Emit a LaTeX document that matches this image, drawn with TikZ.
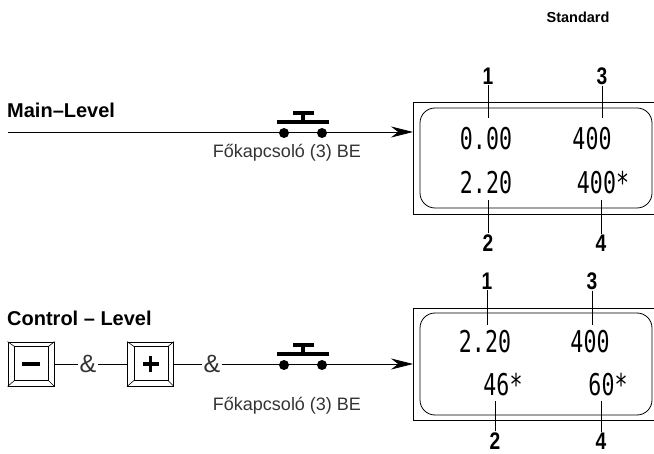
\documentclass[tikz,border=0pt]{standalone}
\usepackage{fontspec}
\setmainfont{Liberation Sans}
\newfontfamily\narrowfont{Liberation Sans}[FakeStretch=0.8]
\newfontfamily\lcdfont{DejaVu Sans Mono}[FakeStretch=0.72]
\usetikzlibrary{arrows.meta, positioning, calc}

\begin{document}
\begin{tikzpicture}[x=1pt, y=1pt,
    head/.style={font=\fontsize{20}{22}\selectfont\bfseries, inner sep=0pt, anchor=west},
    caption/.style={font=\fontsize{18}{20}\selectfont\color{black!80}, inner sep=0pt},
    num/.style={font=\narrowfont\fontsize{24}{26}\selectfont\bfseries, inner sep=1pt},
    lcd/.style={font=\lcdfont\fontsize{30}{32}\selectfont, inner sep=1pt},
    amp/.style={font=\fontsize{25}{27}\selectfont\color{black!80}, inner sep=1pt},
    lead/.style={line width=0.8pt},
    feed/.style={line width=0.8pt, -{Stealth[length=22pt, width=11pt]}},
    key/.style={draw, line width=0.9pt, minimum width=46pt, minimum height=44pt, inner sep=0pt}
  ]
  \useasboundingbox (0,0) rectangle (654,453);
  \clip (0,0) rectangle (654,453);

  \node[font=\fontsize{14.5}{16}\selectfont\bfseries] (std) at (578, 436) {Standard};

  % main level
  \node[head] (mainlbl) at (7, 343) {Main--Level};
  \coordinate (mainin) at (8, 321);
  \draw[line width=0.8pt, fill=white] (413,239) rectangle (680,351);
  \draw[line width=0.8pt, rounded corners=15pt] (420,245) rectangle (652,345);
  \coordinate (disp1) at (413, 321);
  \draw[feed] (mainin) -- (disp1);
  \node[caption] (sw1cap) at (287, 300) {Főkapcsoló (3) BE};

  \node[lcd] (a1) at (486, 314) {0.00};
  \node[lcd] (a3) at (592, 314) {400};
  \node[lcd] (a2) at (486, 270) {2.20};
  \node[lcd] (a4) at (603, 270) {400*};

  \node[num] (m1) at (488, 377) {1};
  \node[num] (m3) at (602, 377) {3};
  \node[num] (m2) at (488, 210) {2};
  \node[num] (m4) at (601, 210) {4};
  \draw[lead] (m1.south) -- (488, 335);
  \draw[lead] (m3.south) -- (602, 335);
  \draw[lead] (m2.north) -- (488, 253);
  \draw[lead] (m4.north) -- (601, 253);

  % control level
  \node[head] (ctrllbl) at (7, 135) {Control -- Level};
  \node[key] (minus) at (31, 89) {};
  \node[key] (plus) at (150.5, 89) {};
  \foreach \k in {minus, plus} {
    \draw[line width=0.7pt] ($(\k.south west)+(7,6)$) rectangle ($(\k.north east)+(-6,-5)$);
    \draw[line width=0.6pt] (\k.south west) -- ++(7,6) (\k.north west) -- ++(7,-5)
      (\k.south east) -- ++(-6,6) (\k.north east) -- ++(-6,-5);
  }
  \fill ($(minus.center)+(-9,-2)$) rectangle ($(minus.center)+(9,2)$);
  \fill ($(plus.center)+(-8,-1.8)$) rectangle ($(plus.center)+(8,1.8)$);
  \fill ($(plus.center)+(-1.8,-8)$) rectangle ($(plus.center)+(1.8,8)$);

  \node[amp] (and1) at (88, 89) {\&};
  \node[amp] (and2) at (212, 89) {\&};
  \draw[lead] (minus.east) -- (and1.west);
  \draw[lead] (and1.east) -- (plus.west);
  \draw[lead] (plus.east) -- (and2.west);

  \draw[line width=0.8pt, fill=white] (413,33) rectangle (680,145);
  \draw[line width=0.8pt, rounded corners=15pt] (420,38) rectangle (652,140);
  \coordinate (disp2) at (413, 89);
  \draw[feed] (and2.east) -- (disp2);
  \node[caption] (sw2cap) at (287, 47) {Főkapcsoló (3) BE};

  \node[lcd] (b1) at (485, 111) {2.20};
  \node[lcd] (b3) at (590, 111) {400};
  \node[lcd] (b2) at (503, 68) {46*};
  \node[lcd] (b4) at (608, 68) {60*};

  \node[num] (c1) at (487, 172) {1};
  \node[num] (c3) at (592, 172) {3};
  \node[num] (c2) at (495, 12) {2};
  \node[num] (c4) at (601, 12) {4};
  \draw[lead] (c1.south) -- (487, 128);
  \draw[lead] (c3.south) -- (592, 128);
  \draw[lead] (c2.north) -- (495, 52);
  \draw[lead] (c4.north) -- (601, 52);

  % push switches
  \foreach \y/\n in {321/sw1, 89/sw2} {
    \coordinate (\n) at (303, \y);
    \fill ($(\n)+(-26,8)$) rectangle ($(\n)+(26,12)$);
    \fill ($(\n)+(-1.6,11)$) rectangle ($(\n)+(1.6,17)$);
    \fill ($(\n)+(-10.5,17)$) rectangle ($(\n)+(10.5,21)$);
    \fill ($(\n)+(-19,-1)$) circle (5pt);
    \fill ($(\n)+(19,-1)$) circle (5pt);
  }
\end{tikzpicture}
\end{document}
